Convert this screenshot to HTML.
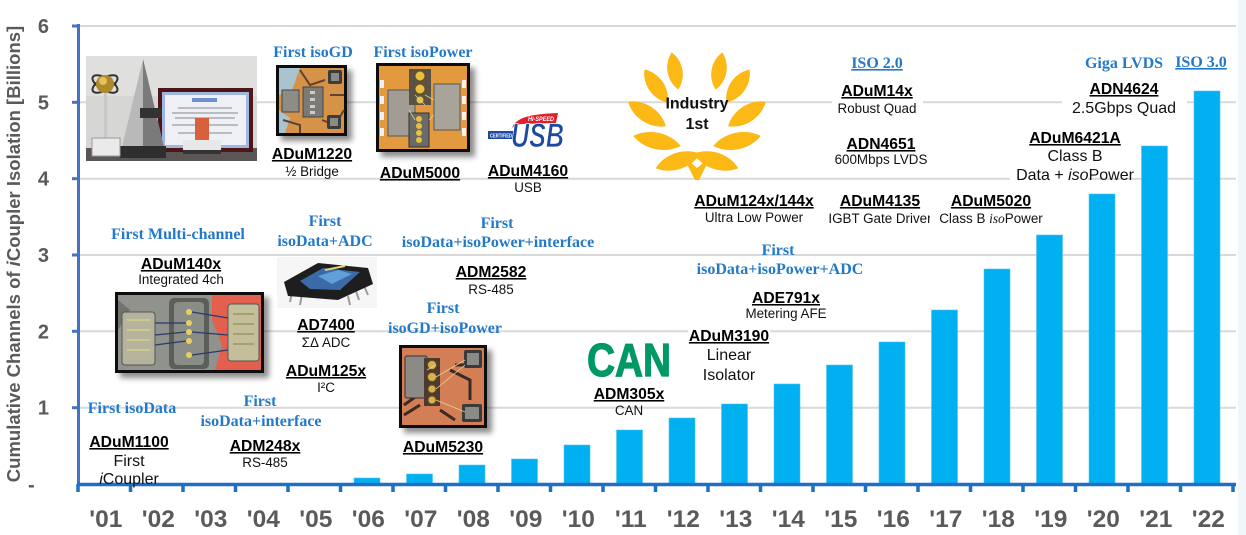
<!DOCTYPE html>
<html><head><meta charset="utf-8"><style>
html,body{margin:0;padding:0;background:#fff;}
svg{display:block;}
.b{font-family:"Liberation Serif",serif;font-weight:bold;font-size:16px;fill:#2379c8;}
.p{font-family:"Liberation Sans",sans-serif;font-weight:bold;font-size:15.7px;fill:#000;text-decoration:underline;}
.d{font-family:"Liberation Sans",sans-serif;font-size:13.4px;fill:#111;}
.d16{font-family:"Liberation Sans",sans-serif;font-size:16px;fill:#111;}
.xl{font-family:"Liberation Sans",sans-serif;font-weight:bold;font-size:24.5px;fill:#5a5a5a;}
.yl{font-family:"Liberation Sans",sans-serif;font-weight:bold;font-size:20px;fill:#5a5a5a;}
</style></head><body>
<svg width="1246" height="535" viewBox="0 0 1246 535" xmlns="http://www.w3.org/2000/svg">
<defs>
<filter id="sh" x="-20%" y="-20%" width="150%" height="150%"><feDropShadow dx="5" dy="5" stdDeviation="3" flood-color="#000" flood-opacity="0.45"/></filter>
<path id="leaf" d="M0,-18 C10,-8 10,8 0,18 C-10,8 -10,-8 0,-18Z"/>
</defs>
<rect x="0" y="0" width="1246" height="535" fill="#fff"/>
<rect x="1238" y="0" width="8" height="535" fill="#f1f6fc"/>

<!-- gridlines -->
<g stroke="#d9d9d9" stroke-width="2">
<line x1="80" y1="26" x2="1236" y2="26"/>
<line x1="80" y1="102.3" x2="1236" y2="102.3"/>
<line x1="80" y1="178.7" x2="1236" y2="178.7"/>
<line x1="80" y1="255" x2="1236" y2="255"/>
<line x1="80" y1="331.3" x2="1236" y2="331.3"/>
<line x1="80" y1="407.7" x2="1236" y2="407.7"/>
</g>

<!-- y axis -->
<g stroke="#4472c4" stroke-width="3">
<line x1="78.5" y1="24" x2="78.5" y2="486"/>
<line x1="72" y1="26" x2="78" y2="26"/>
<line x1="72" y1="102.3" x2="78" y2="102.3"/>
<line x1="72" y1="178.7" x2="78" y2="178.7"/>
<line x1="72" y1="255" x2="78" y2="255"/>
<line x1="72" y1="331.3" x2="78" y2="331.3"/>
<line x1="72" y1="407.7" x2="78" y2="407.7"/>
</g>
<g class="yl" text-anchor="end">
<text x="49" y="33">6</text>
<text x="49" y="109.3">5</text>
<text x="49" y="185.7">4</text>
<text x="49" y="262">3</text>
<text x="49" y="338.3">2</text>
<text x="49" y="414.7">1</text>
</g>
<text class="yl" x="28" y="491.5">-</text>
<text transform="translate(20,254) rotate(-90)" text-anchor="middle" style="font-family:'Liberation Sans',sans-serif;font-weight:bold;font-size:18.5px;fill:#5a5a5a;">Cumulative Channels of <tspan font-style="italic">i</tspan>Coupler Isolation [Billions]</text>

<!-- bars -->
<g fill="#00b0f0" stroke="#4fc6f3" stroke-width="0.6">
<rect x="354" y="478" width="26" height="6"/>
<rect x="406.5" y="474" width="26" height="10"/>
<rect x="459" y="465" width="26" height="19"/>
<rect x="511.5" y="459" width="26" height="25"/>
<rect x="564" y="445" width="26" height="39"/>
<rect x="616.5" y="430" width="26" height="54"/>
<rect x="669" y="418" width="26" height="66"/>
<rect x="721.5" y="404" width="26" height="80"/>
<rect x="774" y="384" width="26" height="100"/>
<rect x="826.5" y="365" width="26" height="119"/>
<rect x="879" y="342" width="26" height="142"/>
<rect x="931.5" y="310" width="26" height="174"/>
<rect x="984" y="269" width="26" height="215"/>
<rect x="1036.5" y="235" width="26" height="249"/>
<rect x="1089" y="194" width="26" height="290"/>
<rect x="1141.5" y="146" width="26" height="338"/>
<rect x="1194" y="91" width="26" height="393"/>
</g>

<!-- x axis -->
<g stroke="#1f6fc5" stroke-width="3.5">
<line x1="77" y1="484.5" x2="1236" y2="484.5"/>
<line x1="78" y1="484" x2="78" y2="492"/>
<line x1="130.5" y1="484" x2="130.5" y2="492"/>
<line x1="183" y1="484" x2="183" y2="492"/>
<line x1="235.5" y1="484" x2="235.5" y2="492"/>
<line x1="288" y1="484" x2="288" y2="492"/>
<line x1="340.5" y1="484" x2="340.5" y2="492"/>
<line x1="393" y1="484" x2="393" y2="492"/>
<line x1="445.5" y1="484" x2="445.5" y2="492"/>
<line x1="498" y1="484" x2="498" y2="492"/>
<line x1="550.5" y1="484" x2="550.5" y2="492"/>
<line x1="603" y1="484" x2="603" y2="492"/>
<line x1="655.5" y1="484" x2="655.5" y2="492"/>
<line x1="708" y1="484" x2="708" y2="492"/>
<line x1="760.5" y1="484" x2="760.5" y2="492"/>
<line x1="813" y1="484" x2="813" y2="492"/>
<line x1="865.5" y1="484" x2="865.5" y2="492"/>
<line x1="918" y1="484" x2="918" y2="492"/>
<line x1="970.5" y1="484" x2="970.5" y2="492"/>
<line x1="1023" y1="484" x2="1023" y2="492"/>
<line x1="1075.5" y1="484" x2="1075.5" y2="492"/>
<line x1="1128" y1="484" x2="1128" y2="492"/>
<line x1="1180.5" y1="484" x2="1180.5" y2="492"/>
<line x1="1233" y1="484" x2="1233" y2="492"/>
</g>
<g class="xl" text-anchor="middle">
<text x="105.8" y="527">'01</text>
<text x="158.3" y="527">'02</text>
<text x="210.8" y="527">'03</text>
<text x="263.3" y="527">'04</text>
<text x="315.8" y="527">'05</text>
<text x="368.3" y="527">'06</text>
<text x="420.8" y="527">'07</text>
<text x="473.3" y="527">'08</text>
<text x="525.8" y="527">'09</text>
<text x="578.3" y="527">'10</text>
<text x="630.8" y="527">'11</text>
<text x="683.3" y="527">'12</text>
<text x="735.8" y="527">'13</text>
<text x="788.3" y="527">'14</text>
<text x="840.8" y="527">'15</text>
<text x="893.3" y="527">'16</text>
<text x="945.8" y="527">'17</text>
<text x="998.3" y="527">'18</text>
<text x="1050.8" y="527">'19</text>
<text x="1103.3" y="527">'20</text>
<text x="1155.8" y="527">'21</text>
<text x="1208.3" y="527">'22</text>
</g>

<!-- award photo -->
<g>
<rect x="86" y="56" width="171" height="105" fill="#d6d6d4"/>
<rect x="86" y="56" width="171" height="40" fill="#dfdfdd"/>
<rect x="86" y="148" width="171" height="13" fill="#5a5655"/>
<rect x="158" y="88" width="95" height="64" fill="#4e1616"/>
<rect x="162" y="92" width="87" height="56" fill="#9fb7e0"/>
<rect x="165" y="95" width="81" height="50" fill="#eef0f6"/>
<rect x="192" y="98" width="25" height="4" fill="#6b8fd0"/>
<g stroke="#888" stroke-width="1"><line x1="178" y1="108" x2="232" y2="108"/><line x1="172" y1="113" x2="238" y2="113"/><line x1="175" y1="118" x2="235" y2="118"/><line x1="172" y1="125" x2="238" y2="125"/><line x1="178" y1="133" x2="232" y2="133"/></g>
<rect x="195" y="118" width="14" height="22" fill="#d8603c"/>
<rect x="183" y="140" width="38" height="12" fill="#e8e8e8"/>
<rect x="183" y="150" width="38" height="4" fill="#333"/>
<polygon points="143,59 122,147 164,147" fill="#b9b9b9"/>
<polygon points="143,59 143,147 164,147" fill="#7a7a7a"/>
<rect x="140" y="108" width="22" height="10" fill="#333"/>
<rect x="120" y="146" width="46" height="12" fill="#2e2e2e"/>
<rect x="104" y="88" width="3" height="55" fill="#c8c8c8"/>
<rect x="92" y="138" width="28" height="18" fill="#eaeaea" stroke="#999" stroke-width="1"/>
<ellipse cx="105" cy="84" rx="14" ry="6" fill="none" stroke="#333" stroke-width="2" transform="rotate(30 105 84)"/>
<ellipse cx="105" cy="84" rx="14" ry="6" fill="none" stroke="#333" stroke-width="2" transform="rotate(-30 105 84)"/>
<circle cx="105" cy="84" r="9" fill="#b08a2a"/>
<circle cx="103" cy="81" r="4" fill="#e0c060"/>
</g>

<!-- ADuM1220 chip -->
<g filter="url(#sh)">
<rect x="276" y="65" width="71" height="71" fill="#111"/>
</g>
<rect x="279" y="68" width="65" height="65" fill="#d69348"/>
<path d="M279,68 L300,68 L292,90 L279,95Z" fill="#a9c3cf"/>
<path d="M279,110 L290,118 L285,133 L279,133Z" fill="#a9c3cf"/>
<g stroke="#5b4432" stroke-width="2" fill="none"><path d="M300,70 L310,85 L325,80"/><path d="M322,120 L335,125 L344,110"/><path d="M283,120 L300,125 L300,133"/><path d="M330,95 L344,95"/></g>
<rect x="282" y="90" width="17" height="22" fill="#8e8c86" stroke="#444" stroke-width="1"/>
<rect x="303" y="87" width="20" height="30" fill="#7c7a74" stroke="#444" stroke-width="1"/>
<g fill="#ccc"><rect x="310" y="91" width="5" height="3"/><rect x="310" y="98" width="5" height="3"/><rect x="310" y="105" width="5" height="3"/><rect x="310" y="111" width="5" height="3"/></g>
<rect x="328" y="70" width="14" height="14" rx="2" fill="#3c3c3c"/><rect x="331" y="73" width="8" height="8" fill="#8a8a86"/>
<rect x="327" y="115" width="14" height="14" rx="2" fill="#3c3c3c"/><rect x="330" y="118" width="8" height="8" fill="#8a8a86"/>

<!-- ADuM5000 chip -->
<g filter="url(#sh)">
<rect x="376" y="63" width="94" height="89" fill="#111"/>
</g>
<rect x="379" y="66" width="88" height="83" fill="#e39a3e"/>
<g fill="#f2f2f2"><rect x="380" y="80" width="4" height="8"/><rect x="380" y="96" width="4" height="8"/><rect x="380" y="112" width="4" height="8"/><rect x="380" y="128" width="4" height="8"/><rect x="462" y="80" width="4" height="8"/><rect x="462" y="96" width="4" height="8"/><rect x="462" y="112" width="4" height="8"/><rect x="462" y="128" width="4" height="8"/></g>
<rect x="388" y="90" width="27" height="46" fill="#a19d94" stroke="#555" stroke-width="1"/>
<rect x="434" y="84" width="26" height="46" fill="#a8a49a" stroke="#555" stroke-width="1"/>
<rect x="409" y="69" width="22" height="36" fill="#5a5244"/>
<circle cx="420" cy="76" r="5" fill="#e8c040" stroke="#6a5020"/>
<circle cx="420" cy="89" r="5" fill="#e8c040" stroke="#6a5020"/>
<circle cx="420" cy="100" r="3.5" fill="#e8c040"/>
<rect x="409" y="113" width="20" height="34" fill="#6a6a66" stroke="#333"/>
<g fill="#e8c040"><circle cx="419" cy="119" r="3"/><circle cx="419" cy="126" r="3"/><circle cx="419" cy="133" r="3"/><circle cx="419" cy="140" r="3"/></g>
<g stroke="#e0d090" stroke-width="0.8"><line x1="415" y1="95" x2="425" y2="105"/><line x1="425" y1="95" x2="434" y2="100"/><line x1="415" y1="120" x2="409" y2="110"/><line x1="429" y1="120" x2="434" y2="115"/></g>

<!-- USB logo -->
<rect x="487" y="110" width="78" height="40" fill="#fff"/>
<path d="M512,128 C516,117 532,114 558,113 L556,123 L521,124 C516,125 514,126 512,128Z" fill="#e0202a"/>
<text x="528" y="121" textLength="26" lengthAdjust="spacingAndGlyphs" style="font-family:'Liberation Sans',sans-serif;font-weight:bold;font-style:italic;font-size:6px;fill:#fff;">HI-SPEED</text>
<rect x="488" y="131" width="26" height="8" fill="#1c4aa0"/>
<text x="490" y="137.5" textLength="22" lengthAdjust="spacingAndGlyphs" style="font-family:'Liberation Sans',sans-serif;font-weight:bold;font-size:5px;fill:#fff;">CERTIFIED</text>
<text x="511" y="147" textLength="53" lengthAdjust="spacingAndGlyphs" style="font-family:'Liberation Sans',sans-serif;font-weight:bold;font-style:italic;font-size:34px;fill:#1c4aa0;stroke:#fff;stroke-width:0.8;">USB</text>

<!-- Laurel -->
<g fill="#fcb814">
<use href="#leaf" transform="translate(675,71) rotate(-10) scale(1.0,1.05)"/>
<use href="#leaf" transform="translate(656,86) rotate(-35) scale(1.05,1.12)"/>
<use href="#leaf" transform="translate(647,114) rotate(-57) scale(1.1,1.25)"/>
<use href="#leaf" transform="translate(657,141) rotate(-78) scale(1.1,1.35)"/>
<use href="#leaf" transform="translate(678,161) rotate(-108) scale(1.1,1.3)"/>
<use href="#leaf" transform="translate(719,71) rotate(10) scale(1.0,1.05)"/>
<use href="#leaf" transform="translate(738,86) rotate(35) scale(1.05,1.12)"/>
<use href="#leaf" transform="translate(747,114) rotate(57) scale(1.1,1.25)"/>
<use href="#leaf" transform="translate(737,141) rotate(78) scale(1.1,1.35)"/>
<use href="#leaf" transform="translate(716,161) rotate(108) scale(1.1,1.3)"/>
<path d="M690,162 L697,168 L704,162 L707,164 L699,180 L695,180 L687,164Z"/>
</g>
<text x="697" y="108.5" text-anchor="middle" style="font-family:'Liberation Sans',sans-serif;font-weight:bold;font-size:16px;fill:#111;">Industry</text>
<text x="697" y="129" text-anchor="middle" style="font-family:'Liberation Sans',sans-serif;font-weight:bold;font-size:16px;fill:#111;">1st</text>

<!-- ADuM140x chip -->
<g filter="url(#sh)">
<rect x="115" y="292" width="149" height="81" fill="#111"/>
</g>
<rect x="118" y="295" width="143" height="75" fill="#8f928d"/>
<path d="M212,295 L261,295 L261,370 L215,370 L222,345 L212,320Z" fill="#e4604e"/>
<path d="M118,330 L130,310 L118,300Z" fill="#6f726d"/>
<rect x="122" y="312" width="33" height="53" rx="3" fill="#b6b39c" stroke="#555" stroke-width="1"/>
<g stroke="#e0e080" stroke-width="1"><line x1="127" y1="320" x2="150" y2="320"/><line x1="127" y1="330" x2="150" y2="330"/><line x1="127" y1="340" x2="150" y2="340"/><line x1="127" y1="350" x2="150" y2="350"/></g>
<rect x="169" y="298" width="40" height="71" rx="5" fill="#5c5e5a"/>
<rect x="174" y="302" width="30" height="63" rx="4" fill="#8a8c86"/>
<g fill="#e8d060"><circle cx="189" cy="312" r="3"/><circle cx="189" cy="323" r="3"/><circle cx="189" cy="332" r="3"/><circle cx="189" cy="341" r="3"/><circle cx="189" cy="355" r="3"/></g>
<g stroke="#2a3a6a" stroke-width="1.2"><line x1="155" y1="323" x2="186" y2="323"/><line x1="155" y1="335" x2="186" y2="332"/><line x1="155" y1="345" x2="186" y2="341"/><line x1="192" y1="312" x2="228" y2="318"/><line x1="192" y1="332" x2="228" y2="335"/><line x1="192" y1="355" x2="228" y2="350"/></g>
<rect x="228" y="304" width="31" height="57" rx="3" fill="#c4bf9a" stroke="#555" stroke-width="1"/>
<g stroke="#8a8050" stroke-width="1"><line x1="233" y1="314" x2="254" y2="314"/><line x1="233" y1="324" x2="254" y2="324"/><line x1="233" y1="334" x2="254" y2="334"/><line x1="233" y1="344" x2="254" y2="344"/></g>

<!-- AD7400 package -->
<rect x="277" y="257" width="100" height="51" fill="#f6f6f6"/>
<g stroke="#9a9a9a" stroke-width="2"><line x1="292" y1="292" x2="290" y2="302"/><line x1="302" y1="294" x2="300" y2="305"/><line x1="348" y1="296" x2="350" y2="305"/><line x1="356" y1="291" x2="359" y2="300"/><line x1="364" y1="286" x2="368" y2="295"/></g>
<polygon points="284,282 318,263 368,268 373,284 338,300 288,296" fill="#1e1e1e"/>
<polygon points="300,281 323,268 360,272 340,290 310,289" fill="#3a6aa8"/>
<polygon points="318,276 338,270 352,274 332,284" fill="#5fa0d8"/>
<line x1="325" y1="270" x2="345" y2="266" stroke="#e8d070" stroke-width="2"/>

<!-- ADuM5230 chip -->
<g filter="url(#sh)">
<rect x="399" y="345" width="88" height="83" fill="#111"/>
</g>
<rect x="402" y="348" width="82" height="77" fill="#d47e55"/>
<g stroke="#3a2a24" stroke-width="3" fill="none"><path d="M404,405 L418,395"/><path d="M404,415 L420,405"/><path d="M450,370 L470,380 L470,400"/><path d="M440,410 L455,420"/><path d="M455,365 L480,365"/></g>
<rect x="405" y="356" width="22" height="42" rx="2" fill="#8c8a84" stroke="#333"/>
<rect x="424" y="358" width="16" height="48" fill="#4a3a30"/>
<g fill="#d8b050" stroke="#6a5020"><circle cx="432" cy="365" r="4.5"/><circle cx="432" cy="377" r="4.5"/><circle cx="432" cy="389" r="4"/><circle cx="432" cy="400" r="4"/></g>
<rect x="464" y="350" width="18" height="18" rx="2" fill="#3a3a3a"/><rect x="467" y="353" width="12" height="12" fill="#8a8a86"/>
<rect x="462" y="404" width="20" height="18" rx="2" fill="#3a3a3a"/><rect x="465" y="407" width="14" height="12" fill="#8a8a86"/>
<g stroke="#e8d090" stroke-width="0.8"><line x1="427" y1="370" x2="436" y2="365"/><line x1="436" y1="377" x2="465" y2="360"/><line x1="436" y1="389" x2="465" y2="365"/><line x1="436" y1="400" x2="465" y2="412"/></g>

<!-- CAN logo -->
<text x="587" y="376" textLength="84" lengthAdjust="spacingAndGlyphs" style="font-family:'Liberation Sans',sans-serif;font-weight:bold;font-size:46px;fill:#009966;stroke:#009966;stroke-width:1.2;">CAN</text>

<!-- white label boxes -->
<g fill="#fff">
<rect x="832" y="80" width="91" height="38"/>
<rect x="1062" y="78" width="125" height="40"/>
<rect x="1010" y="127" width="78" height="57"/>
<rect x="688" y="326" width="82" height="56"/>
</g>

<!-- blue serif labels -->
<g class="b" text-anchor="middle">
<text x="132" y="413">First isoData</text>
<text x="178" y="239">First Multi-channel</text>
<text x="325" y="226">First</text>
<text x="325" y="246">isoData+ADC</text>
<text x="313" y="57">First isoGD</text>
<text x="423" y="57">First isoPower</text>
<text x="260" y="406">First</text>
<text x="261" y="426">isoData+interface</text>
<text x="497" y="228">First</text>
<text x="498" y="247">isoData+isoPower+interface</text>
<text x="443" y="313">First</text>
<text x="445" y="333">isoGD+isoPower</text>
<text x="778" y="255">First</text>
<text x="780" y="274">isoData+isoPower+ADC</text>
<text x="877" y="68" text-decoration="underline">ISO 2.0</text>
<text x="1124" y="68">Giga LVDS</text>
<text x="1201" y="67" text-decoration="underline">ISO 3.0</text>
</g>

<!-- product labels -->
<g text-anchor="middle">
<text class="p" x="129" y="447">ADuM1100</text>
<text class="d16" x="129" y="466">First</text>
<text class="d16" x="129" y="484"><tspan font-style="italic">i</tspan>Coupler</text>

<text class="p" x="265" y="451">ADM248x</text>
<text class="d" x="265" y="467">RS-485</text>

<text class="p" x="181" y="269">ADuM140x</text>
<text class="d" x="181" y="284">Integrated 4ch</text>

<text class="p" x="326" y="330">AD7400</text>
<text class="d" x="326" y="347">ΣΔ ADC</text>

<text class="p" x="326" y="376">ADuM125x</text>
<text class="d" x="326" y="392">I²C</text>

<text class="p" x="312" y="159">ADuM1220</text>
<text class="d" x="312" y="176">½ Bridge</text>

<text class="p" x="420" y="178">ADuM5000</text>

<text class="p" x="528" y="176">ADuM4160</text>
<text class="d" x="528" y="192">USB</text>

<text class="p" x="491" y="277">ADM2582</text>
<text class="d" x="491" y="294">RS-485</text>

<text class="p" x="443" y="452">ADuM5230</text>

<text class="p" x="629" y="399">ADM305x</text>
<text class="d" x="629" y="415">CAN</text>

<text class="p" x="729" y="341">ADuM3190</text>
<text class="d16" x="729" y="360">Linear</text>
<text class="d16" x="729" y="380">Isolator</text>

<text class="p" x="786" y="303">ADE791x</text>
<text class="d" x="786" y="318">Metering AFE</text>

<text class="p" x="754" y="206">ADuM124x/144x</text>
<text class="d" x="754" y="222">Ultra Low Power</text>

<text class="p" x="880" y="206">ADuM4135</text>
<text class="d" x="880" y="223">IGBT Gate Driver</text>
</g>
<rect x="930" y="208" width="8" height="20" fill="#fff"/>
<g text-anchor="middle">
<text class="p" x="991" y="206">ADuM5020</text>
<text class="d" x="991" y="223">Class B <tspan style="font-family:'Liberation Serif',serif;font-style:italic;">iso</tspan>Power</text>

<text class="p" x="877" y="96">ADuM14x</text>
<text class="d" x="877" y="113">Robust Quad</text>

<text class="p" x="881" y="149">ADN4651</text>
<text class="d" x="881" y="164">600Mbps LVDS</text>

<text class="p" x="1124" y="94">ADN4624</text>
<text class="d16" x="1124" y="113">2.5Gbps Quad</text>

<text class="p" x="1075" y="143">ADuM6421A</text>
<text class="d16" x="1075" y="161">Class B</text>
<text class="d16" x="1075" y="180">Data + <tspan font-style="italic">iso</tspan>Power</text>
</g>
</svg>
</body></html>
